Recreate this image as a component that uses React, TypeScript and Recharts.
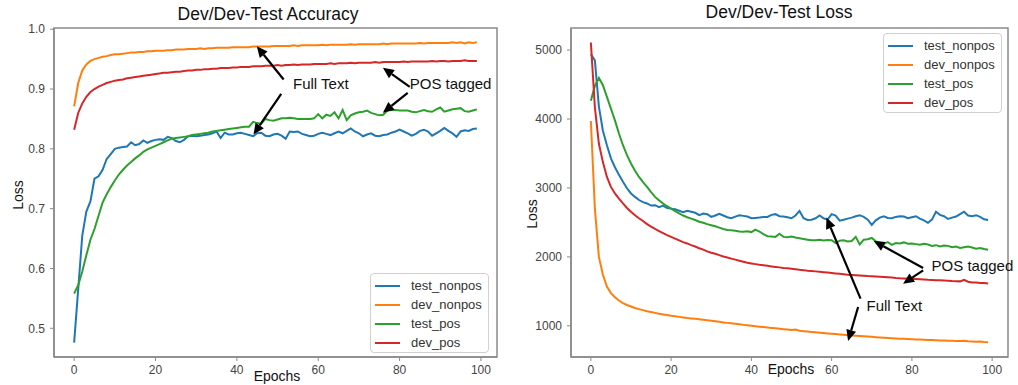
import React from 'react';
import { LineChart, Line, XAxis, YAxis, ReferenceLine, ReferenceDot, ReferenceArea, Legend } from 'recharts';

// ---------- DATA ----------
const epochs: number[] = Array.from({ length: 100 }, (_, i) => i);

const seriesNames = ['test_nonpos', 'dev_nonpos', 'test_pos', 'dev_pos'];
const seriesColors = ['#1f77b4', '#ff7f0e', '#2ca02c', '#d62728'];

// Accuracy (left panel)
const accTestNonpos = [
  0.476, 0.565, 0.655, 0.695, 0.712, 0.750, 0.754, 0.765, 0.783, 0.791,
  0.800, 0.802, 0.803, 0.804, 0.811, 0.806, 0.808, 0.814, 0.810, 0.813,
  0.815, 0.816, 0.815, 0.820, 0.818, 0.813, 0.811, 0.815, 0.821, 0.822,
  0.821, 0.822, 0.823, 0.824, 0.826, 0.829, 0.818, 0.827, 0.824, 0.824,
  0.826, 0.827, 0.825, 0.823, 0.821, 0.826, 0.827, 0.822, 0.821, 0.824,
  0.825, 0.822, 0.817, 0.829, 0.828, 0.829, 0.825, 0.823, 0.821, 0.822,
  0.825, 0.827, 0.825, 0.823, 0.826, 0.829, 0.826, 0.830, 0.834, 0.829,
  0.826, 0.821, 0.824, 0.826, 0.822, 0.821, 0.823, 0.824, 0.827, 0.829,
  0.832, 0.829, 0.826, 0.822, 0.825, 0.830, 0.832, 0.829, 0.822, 0.826,
  0.830, 0.835, 0.830, 0.826, 0.820, 0.829, 0.831, 0.830, 0.833, 0.834,
];
const accDevNonpos = [
  0.871, 0.910, 0.931, 0.941, 0.947, 0.950, 0.952, 0.954, 0.955, 0.957,
  0.958, 0.958, 0.959, 0.960, 0.961, 0.961, 0.962, 0.962, 0.963, 0.963,
  0.964, 0.964, 0.964, 0.965, 0.965, 0.966, 0.966, 0.966, 0.967, 0.967,
  0.967, 0.968, 0.967, 0.968, 0.968, 0.969, 0.969, 0.969, 0.969, 0.970,
  0.970, 0.970, 0.970, 0.970, 0.971, 0.971, 0.971, 0.971, 0.971, 0.972,
  0.972, 0.972, 0.972, 0.972, 0.973, 0.972, 0.973, 0.973, 0.973, 0.973,
  0.973, 0.974, 0.973, 0.974, 0.974, 0.974, 0.974, 0.974, 0.975, 0.974,
  0.975, 0.975, 0.975, 0.975, 0.975, 0.975, 0.976, 0.975, 0.976, 0.976,
  0.976, 0.976, 0.976, 0.976, 0.976, 0.977, 0.976, 0.977, 0.977, 0.977,
  0.977, 0.977, 0.977, 0.978, 0.977, 0.978, 0.976, 0.978, 0.977, 0.978,
];
const accTestPos = [
  0.558, 0.572, 0.595, 0.622, 0.648, 0.666, 0.688, 0.710, 0.724, 0.736,
  0.747, 0.757, 0.765, 0.772, 0.778, 0.784, 0.789, 0.795, 0.799, 0.802,
  0.805, 0.808, 0.811, 0.814, 0.817, 0.818, 0.819, 0.820, 0.821, 0.823,
  0.824, 0.825, 0.826, 0.827, 0.829, 0.830, 0.831, 0.832, 0.833, 0.834,
  0.835, 0.836, 0.837, 0.837, 0.845, 0.843, 0.842, 0.850, 0.848, 0.847,
  0.849, 0.851, 0.851, 0.852, 0.851, 0.850, 0.850, 0.850, 0.850, 0.851,
  0.858, 0.851, 0.857, 0.855, 0.861, 0.851, 0.865, 0.848, 0.856, 0.859,
  0.861, 0.862, 0.864, 0.860, 0.858, 0.856, 0.857, 0.864, 0.865, 0.865,
  0.864, 0.864, 0.864, 0.862, 0.861, 0.863, 0.865, 0.863, 0.862, 0.866,
  0.869, 0.862, 0.864, 0.866, 0.867, 0.868, 0.863, 0.862, 0.864, 0.866,
];
const accDevPos = [
  0.832, 0.860, 0.876, 0.887, 0.895, 0.900, 0.904, 0.907, 0.910, 0.912,
  0.914, 0.915, 0.916, 0.918, 0.919, 0.920, 0.921, 0.922, 0.923, 0.924,
  0.925, 0.926, 0.927, 0.927, 0.928, 0.929, 0.929, 0.930, 0.931, 0.931,
  0.932, 0.932, 0.933, 0.933, 0.934, 0.934, 0.935, 0.935, 0.935, 0.936,
  0.936, 0.937, 0.937, 0.937, 0.938, 0.938, 0.938, 0.939, 0.939, 0.939,
  0.940, 0.939, 0.940, 0.940, 0.941, 0.940, 0.941, 0.941, 0.941, 0.942,
  0.942, 0.942, 0.942, 0.943, 0.942, 0.943, 0.943, 0.943, 0.944, 0.943,
  0.944, 0.944, 0.944, 0.944, 0.945, 0.944, 0.945, 0.945, 0.945, 0.945,
  0.945, 0.946, 0.945, 0.946, 0.946, 0.946, 0.946, 0.946, 0.947, 0.946,
  0.947, 0.947, 0.946, 0.947, 0.947, 0.947, 0.948, 0.947, 0.947, 0.947,
];

// Loss (right panel)
const lossTestNonpos = [
  4940, 4850, 4180, 3830, 3620, 3430, 3300, 3190, 3090, 2995,
  2920, 2870, 2825, 2795, 2775, 2745, 2750, 2720, 2745, 2710,
  2700, 2690, 2670, 2650, 2670, 2655, 2640, 2605, 2630, 2620,
  2580, 2600, 2625, 2600, 2575, 2560, 2585, 2605, 2595, 2585,
  2560, 2565, 2570, 2580, 2580, 2610, 2620, 2590, 2585, 2575,
  2560, 2600, 2667, 2560, 2535, 2540, 2560, 2600, 2560, 2540,
  2620, 2600, 2525, 2540, 2555, 2570, 2590, 2605, 2580, 2540,
  2465, 2530, 2570, 2590, 2565, 2560, 2580, 2590, 2585, 2560,
  2575, 2590, 2555, 2530, 2495, 2540, 2655, 2610, 2590, 2550,
  2570, 2585, 2620, 2655, 2600, 2590, 2605, 2580, 2545, 2535,
];
const lossDevNonpos = [
  3970, 2700, 2000, 1740, 1570, 1475, 1415, 1368, 1330, 1302,
  1280, 1258, 1242, 1228, 1212, 1200, 1188, 1176, 1166, 1156,
  1146, 1138, 1130, 1122, 1114, 1108, 1103, 1097, 1089, 1081,
  1073, 1065, 1058, 1050, 1043, 1036, 1029, 1022, 1014, 1007,
  1000, 994, 988, 982, 976, 970, 964, 958, 952, 946,
  941, 945, 928, 923, 917, 912, 906, 901, 895, 890,
  885, 880, 874, 869, 864, 860, 856, 852, 848, 844,
  840, 836, 832, 828, 824, 821, 818, 814, 811, 808,
  806, 803, 801, 799, 796, 794, 791, 789, 787, 785,
  783, 781, 779, 782, 775, 773, 771, 774, 766, 763,
];
const lossTestPos = [
  4265, 4480, 4595, 4490, 4320, 4150, 3980, 3790, 3620, 3475,
  3355, 3250, 3160, 3085, 3015, 2940, 2870, 2820, 2775, 2735,
  2700, 2665, 2630, 2600, 2575, 2555, 2535, 2510, 2495, 2475,
  2460, 2445, 2425, 2405, 2390, 2385, 2378, 2370, 2365, 2372,
  2360, 2395, 2368, 2330, 2300, 2295, 2290, 2335, 2290, 2285,
  2295, 2280, 2270, 2260, 2250, 2240, 2243, 2248, 2238, 2245,
  2243, 2200, 2235, 2240, 2225, 2230, 2290, 2180, 2250, 2255,
  2275, 2225, 2210, 2190, 2215, 2175, 2200, 2195, 2210, 2190,
  2195, 2185, 2175, 2190, 2180, 2160, 2170, 2150, 2165, 2160,
  2140, 2150, 2130, 2140, 2150, 2135, 2120, 2130, 2115, 2105,
];
const lossDevPos = [
  5110, 4170, 3640, 3375, 3160, 3015, 2920, 2845, 2775, 2710,
  2655, 2605, 2560, 2520, 2475, 2440, 2405, 2375, 2345, 2315,
  2290, 2265, 2240, 2215, 2195, 2170, 2150, 2125, 2105, 2080,
  2060, 2045, 2025, 2005, 1990, 1975, 1960, 1945, 1930, 1915,
  1905, 1895, 1885, 1878, 1870, 1862, 1855, 1848, 1840, 1835,
  1828, 1820, 1812, 1808, 1800, 1795, 1790, 1785, 1778, 1772,
  1766, 1760, 1755, 1748, 1740, 1738, 1735, 1730, 1726, 1722,
  1720, 1716, 1712, 1708, 1704, 1700, 1694, 1690, 1688, 1684,
  1682, 1678, 1675, 1672, 1668, 1666, 1662, 1660, 1658, 1655,
  1650, 1648, 1645, 1668, 1640, 1630, 1628, 1622, 1620, 1615,
];

const xTicks = [0, 20, 40, 60, 80, 100];
const accTicks = [0.5, 0.6, 0.7, 0.8, 0.9, 1.0];
const lossTicks = [1000, 2000, 3000, 4000, 5000];
const xDomain: [number, number] = [-4.95, 103.95];
const accDomain: [number, number] = [0.452, 1.002];
const lossDomain: [number, number] = [548, 5320];

// annotations: [tailX, tailY, tipX, tipY]
const accArrows = [
  [51.5, 0.9159, 44.9, 0.9716],
  [50.9, 0.892, 44.1, 0.8238],
  [82.5, 0.9036, 75.9, 0.9354],
  [82.0, 0.8936, 75.9, 0.8602],
];
const accLabels: [string, number, number][] = [
  ['Full Text', 53.8, 0.9087],
  ['POS tagged', 82.5, 0.9087],
];
const lossArrows = [
  [67.2, 1395, 58.7, 2570],
  [66.6, 1273, 64.1, 780],
  [82.8, 1839, 70.5, 2230],
  [82.8, 1805, 77.8, 1612],
];
const lossLabels: [string, number, number][] = [
  ['Full Text', 68.7, 1298],
  ['POS tagged', 84.9, 1878],
];

// ---------- build table ----------
const accData = epochs.map((e, i) => ({
  epoch: e,
  test_nonpos: accTestNonpos[i],
  dev_nonpos: accDevNonpos[i],
  test_pos: accTestPos[i],
  dev_pos: accDevPos[i],
}));
const lossData = epochs.map((e, i) => ({
  epoch: e,
  test_nonpos: lossTestNonpos[i],
  dev_nonpos: lossDevNonpos[i],
  test_pos: lossTestPos[i],
  dev_pos: lossDevPos[i],
}));

const SANS = '"Liberation Sans", Arial, Helvetica, sans-serif';
const FRAME = '#8a8a8a';
const TICKTXT = '#444';

const ArrowShape = (props: any) => {
  const { x1, y1, x2, y2 } = props;
  if ([x1, y1, x2, y2].some((v) => typeof v !== 'number' || isNaN(v))) return <g />;
  const dx = x2 - x1;
  const dy = y2 - y1;
  const len = Math.hypot(dx, dy) || 1;
  const ux = dx / len;
  const uy = dy / len;
  const headLen = 11;
  const headW = 5;
  const bx = x2 - ux * headLen;
  const by = y2 - uy * headLen;
  const px = -uy;
  const py = ux;
  return (
    <g>
      <line x1={x1} y1={y1} x2={bx} y2={by} stroke="#000" strokeWidth={2.2} />
      <polygon
        points={`${x2},${y2} ${bx + px * headW},${by + py * headW} ${bx - px * headW},${by - py * headW}`}
        fill="#000"
      />
    </g>
  );
};

const makeTextShape = (text: string) => (props: any) => (
  <text
    x={props.cx}
    y={props.cy}
    dominantBaseline="central"
    fontSize={15}
    fontFamily={SANS}
    fill="#111"
  >
    {text}
  </text>
);

const LegendBox = () => (
  <div
    style={{
      border: '1px solid #d0d0d0',
      borderRadius: 4,
      background: 'rgba(255,255,255,0.85)',
      padding: '2px 6px 2px 4px',
      boxSizing: 'border-box',
      width: 119,
      height: 80,
    }}
  >
    {seriesNames.map((n, i) => (
      <div
        key={n}
        style={{ display: 'flex', alignItems: 'center', height: 19, fontFamily: SANS, fontSize: 13, color: '#333' }}
      >
        <span style={{ display: 'inline-block', width: 25, height: 2, background: seriesColors[i], marginRight: 11 }} />
        <span>{n}</span>
      </div>
    ))}
  </div>
);

const tickStyle = { fontSize: 12, fill: TICKTXT, fontFamily: SANS };

function Panel(props: {
  data: any[];
  width: number;
  margin: any;
  yDomain: [number, number];
  yTicks: number[];
  yFmt: (v: number) => string;
  yWidth: number;
  arrows: number[][];
  labels: [string, number, number][];
  legendPos: { left: number; top: number };
}) {
  const { data, width, margin, yDomain, yTicks, yFmt, yWidth, arrows, labels, legendPos } = props;
  return (
    <LineChart width={width} height={385} data={data} margin={margin}>
      <XAxis
        dataKey="epoch"
        type="number"
        domain={xDomain}
        ticks={xTicks}
        allowDataOverflow
        height={25}
        tickSize={4}
        tickMargin={4}
        tick={tickStyle}
        axisLine={{ stroke: FRAME, strokeWidth: 1.5 }}
        tickLine={{ stroke: FRAME }}
      />
      <YAxis
        type="number"
        domain={yDomain}
        ticks={yTicks}
        allowDataOverflow
        width={yWidth}
        tickSize={4}
        tickMargin={5}
        tick={tickStyle}
        tickFormatter={yFmt}
        axisLine={{ stroke: FRAME, strokeWidth: 1.5 }}
        tickLine={{ stroke: FRAME }}
      />
      <ReferenceArea
        x1={xDomain[0]}
        x2={xDomain[1]}
        y1={yDomain[0]}
        y2={yDomain[1]}
        fill="none"
        fillOpacity={0}
        stroke={FRAME}
        strokeWidth={1.5}
        ifOverflow="visible"
      />
      {seriesNames.map((n, i) => (
        <Line
          key={n}
          type="linear"
          dataKey={n}
          name={n}
          stroke={seriesColors[i]}
          strokeWidth={2}
          dot={false}
          activeDot={false}
          isAnimationActive={false}
        />
      ))}
      {arrows.map((a, i) => (
        <ReferenceLine
          key={'a' + i}
          segment={[
            { x: a[0], y: a[1] },
            { x: a[2], y: a[3] },
          ]}
          ifOverflow="visible"
          shape={ArrowShape}
        />
      ))}
      {labels.map((l, i) => (
        <ReferenceDot key={'l' + i} x={l[1]} y={l[2]} r={0} ifOverflow="visible" shape={makeTextShape(l[0])} />
      ))}
      <Legend
        layout="vertical"
        align="center"
        verticalAlign="middle"
        content={() => <LegendBox />}
        wrapperStyle={{ left: legendPos.left, top: legendPos.top, width: 119, height: 80, bottom: 'auto', right: 'auto' }}
      />
    </LineChart>
  );
}

const txt = (s: React.CSSProperties): React.CSSProperties => ({
  position: 'absolute',
  fontFamily: SANS,
  color: '#111',
  whiteSpace: 'nowrap',
  transform: 'translate(-50%, -50%)',
  lineHeight: 1,
  ...s,
});

export default function App() {
  return (
    <div style={{ position: 'absolute', left: 0, top: 0, width: 1018, height: 385, background: '#fff', overflow: 'hidden' }}>
      <div style={{ position: 'absolute', left: 0, top: 0 }}>
        <Panel
          data={accData}
          width={520}
          margin={{ top: 28, right: 23, bottom: 3, left: 14 }}
          yDomain={accDomain}
          yTicks={accTicks}
          yFmt={(v) => v.toFixed(1)}
          yWidth={40}
          arrows={accArrows}
          labels={accLabels}
          legendPos={{ left: 370, top: 273 }}
        />
      </div>
      <div style={{ position: 'absolute', left: 520, top: 0 }}>
        <Panel
          data={lossData}
          width={498}
          margin={{ top: 28, right: 10, bottom: 3, left: 6 }}
          yDomain={lossDomain}
          yTicks={lossTicks}
          yFmt={(v) => String(v)}
          yWidth={45}
          arrows={lossArrows}
          labels={lossLabels}
          legendPos={{ left: 363, top: 33 }}
        />
      </div>
      <div style={txt({ left: 268, top: 15, fontSize: 17.5 })}>Dev/Dev-Test Accuracy</div>
      <div style={txt({ left: 779, top: 13, fontSize: 17.5 })}>Dev/Dev-Test Loss</div>
      <div style={txt({ left: 277, top: 376, fontSize: 14 })}>Epochs</div>
      <div style={txt({ left: 791, top: 369, fontSize: 14 })}>Epochs</div>
      <div style={txt({ left: 17.5, top: 195, fontSize: 14, transform: 'translate(-50%, -50%) rotate(-90deg)' })}>Loss</div>
      <div style={txt({ left: 532, top: 214, fontSize: 14, transform: 'translate(-50%, -50%) rotate(-90deg)' })}>Loss</div>
    </div>
  );
}
